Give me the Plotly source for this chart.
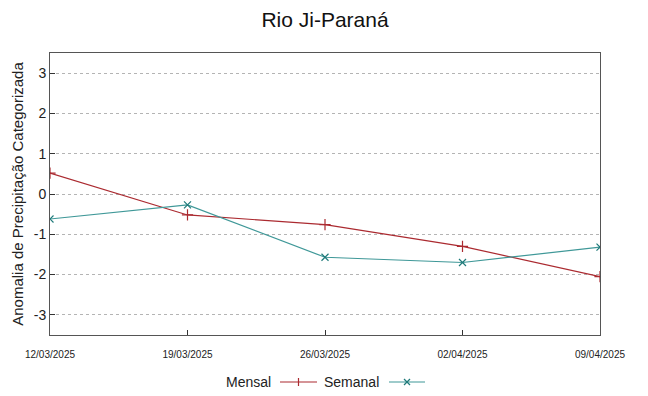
import plotly.graph_objects as go

dates = ["2025-03-12", "2025-03-19", "2025-03-26", "2025-04-02", "2025-04-09"]
tick_labels = ["12/03/2025", "19/03/2025", "26/03/2025", "02/04/2025", "09/04/2025"]
mensal = [0.52, -0.52, -0.76, -1.3, -2.05]
semanal = [-0.62, -0.27, -1.57, -1.7, -1.32]
y_ticks = [-3, -2, -1, 0, 1, 2, 3]
y_tick_text = ["-3", "-2", "-1", "0", "1", "2", "3"]

RED = "#ab2a30"
TEAL = "#3f9898"
TEAL_M = "#1f7a7a"

fig = go.Figure()
fig.add_trace(go.Scatter(x=dates, y=mensal, name="Mensal", mode="lines+markers",
                         line=dict(color=RED, width=1.2),
                         marker=dict(symbol="cross-thin", size=8, line=dict(color=RED, width=1.2))))
fig.add_trace(go.Scatter(x=dates, y=semanal, name="Semanal", mode="lines+markers",
                         line=dict(color=TEAL, width=1.2),
                         marker=dict(symbol="x-thin", size=7, line=dict(color=TEAL_M, width=1.2))))

W, H = 648, 396
L, R, T, B = 50, 48, 53, 61
pw, ph = W - L - R, H - T - B

def fx(x):
    return (x - L) / pw
def fy(y):
    return (H - y - B) / ph

shapes = []
annotations = []
# manual gnuplot-style legend: text then sample line
for label, tx, x0, x1, color, mcolor, kind in [
    ("Mensal", 273, 280, 317, RED, RED, "plus"),
    ("Semanal", 381, 389, 425, TEAL, TEAL_M, "x"),
]:
    annotations.append(dict(text=label, x=fx(tx), y=fy(382), xref="paper", yref="paper",
                            xanchor="right", yanchor="middle", showarrow=False,
                            font=dict(size=14, color="#222")))
    shapes.append(dict(type="line", xref="paper", yref="paper", x0=fx(x0), x1=fx(x1),
                       y0=fy(382), y1=fy(382), line=dict(color=color, width=1.2)))
    cx = (x0 + x1) / 2
    if kind == "plus":
        shapes.append(dict(type="line", xref="paper", yref="paper", x0=fx(cx), x1=fx(cx),
                           y0=fy(378), y1=fy(386), line=dict(color=mcolor, width=1.2)))
    else:
        shapes.append(dict(type="line", xref="paper", yref="paper", x0=fx(cx - 3), x1=fx(cx + 3),
                           y0=fy(379), y1=fy(385), line=dict(color=mcolor, width=1.2)))
        shapes.append(dict(type="line", xref="paper", yref="paper", x0=fx(cx - 3), x1=fx(cx + 3),
                           y0=fy(385), y1=fy(379), line=dict(color=mcolor, width=1.2)))

fig.update_layout(
    width=W, height=H,
    paper_bgcolor="white", plot_bgcolor="white",
    font=dict(family="Liberation Sans, Arial, sans-serif", color="#222"),
    title=dict(text="Rio Ji-Paraná", x=0.5, xanchor="center", xref="paper",
               y=1 - 20 / H, yanchor="middle", yref="container",
               font=dict(size=21, color="#111")),
    margin=dict(l=L, r=R, t=T, b=B, autoexpand=False),
    showlegend=False,
    shapes=shapes,
    annotations=annotations,
    xaxis=dict(type="date", range=[dates[0], dates[-1]], tickvals=dates, ticktext=tick_labels,
               showgrid=False, ticks="inside", ticklen=5, tickcolor="#333",
               showline=True, linecolor="#555", linewidth=1, mirror=True, automargin=False,
               ticklabelstandoff=10,
               tickfont=dict(size=10, color="#222"),
               zeroline=False),
    yaxis=dict(range=[-3.5, 3.5], tickvals=y_ticks, ticktext=y_tick_text,
               ticks="inside", ticklen=5, tickcolor="#333",
               showgrid=True, gridcolor="#b4b4b4", griddash="dot", gridwidth=1,
               showline=True, linecolor="#555", linewidth=1, mirror=True, zeroline=False,
               automargin=False, tickfont=dict(size=14, color="#222"),
               title=dict(text="Anomalia de Precipitação Categorizada", font=dict(size=15, color="#222"),
                          standoff=6)),
)

fig.write_html("out.html", config={"displayModeBar": False},
               post_script="document.body.style.margin='0';document.body.style.padding='0';")
